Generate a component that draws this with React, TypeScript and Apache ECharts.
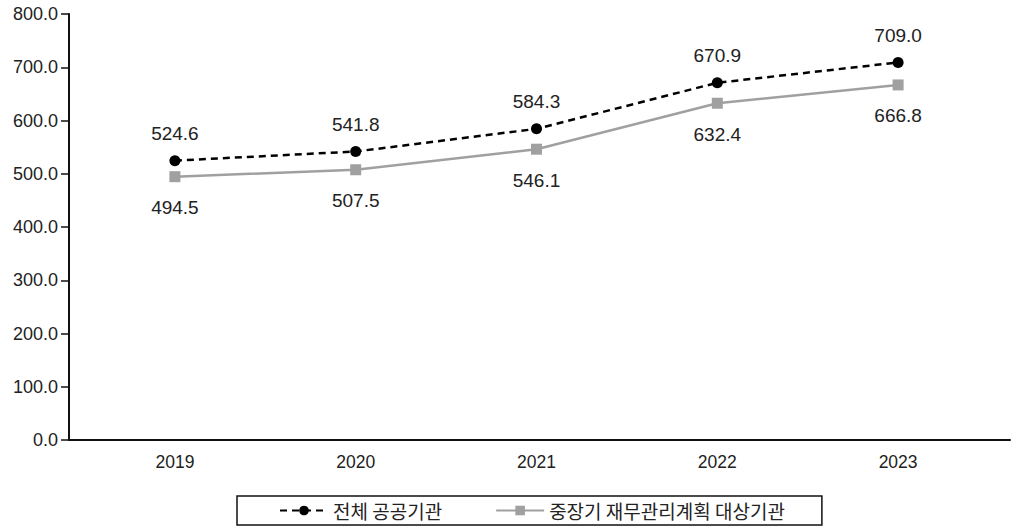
import React, { useEffect, useRef } from "react";
import * as echarts from "echarts";

const years = ["2019", "2020", "2021", "2022", "2023"];
const allPublic = [524.6, 541.8, 584.3, 670.9, 709.0];
const midTerm = [494.5, 507.5, 546.1, 632.4, 666.8];
const seriesNames = ["전체 공공기관", "중장기 재무관리계획 대상기관"];

const FONT = "'Liberation Sans', 'Noto Sans CJK KR', sans-serif";
const KFONT = "'Noto Sans CJK KR', 'Liberation Sans', sans-serif";

export default function App() {
  const ref = useRef<HTMLDivElement>(null);
  useEffect(() => {
    if (!ref.current) return;
    const chart = echarts.init(ref.current, undefined, { renderer: "svg" });
    chart.setOption({
      animation: false,
      backgroundColor: "#fff",
      textStyle: { fontFamily: FONT },
      grid: [
        { left: 84.5, right: 25.5, top: 14, bottom: 91 },
        { left: 69, right: 4, top: 14, bottom: 91 },
      ],
      xAxis: [
        {
          type: "category",
          data: years,
          gridIndex: 0,
          boundaryGap: true,
          axisLine: { show: false },
          axisTick: { show: false },
          axisLabel: { color: "#222", fontSize: 17.5, margin: 13, fontFamily: FONT },
        },
        {
          type: "value",
          gridIndex: 1,
          min: 0,
          max: 1,
          axisLine: { show: true, lineStyle: { color: "#111", width: 2 } },
          axisTick: { show: false },
          axisLabel: { show: false },
          splitLine: { show: false },
        },
      ],
      yAxis: [
        {
          type: "value",
          gridIndex: 0,
          min: 0,
          max: 800,
          interval: 100,
          offset: 15.5,
          axisLine: { show: true, lineStyle: { color: "#111", width: 2 } },
          axisTick: { show: true, length: 8, lineStyle: { color: "#111", width: 1.5 } },
          axisLabel: {
            color: "#222",
            fontSize: 18,
            margin: 11,
            fontFamily: FONT,
            formatter: (v: number) => v.toFixed(1),
          },
          splitLine: { show: false },
        },
        {
          type: "value",
          gridIndex: 1,
          show: false,
          min: 0,
          max: 1,
        },
      ],
      legend: {
        top: 496,
        left: 237,
        data: seriesNames,
        itemWidth: 48,
        itemHeight: 12,
        itemGap: 53,
        padding: [5, 37, 5, 42],
        borderColor: "#111",
        borderWidth: 1.5,
        borderRadius: 0,
        textStyle: { color: "#222", fontSize: 19, fontFamily: KFONT },
      },
      series: [
        {
          name: seriesNames[0],
          type: "line",
          data: allPublic,
          xAxisIndex: 0,
          yAxisIndex: 0,
          symbol: "circle",
          symbolSize: 11,
          itemStyle: { color: "#000" },
          lineStyle: { color: "#000", width: 2.5, type: [7, 5] },
          label: {
            show: true,
            position: "top",
            distance: 12,
            color: "#222",
            fontSize: 19,
            fontFamily: FONT,
            formatter: (p: any) => p.value.toFixed(1),
          },
          z: 3,
        },
        {
          name: seriesNames[1],
          type: "line",
          data: midTerm,
          xAxisIndex: 0,
          yAxisIndex: 0,
          symbol: "rect",
          symbolSize: 11,
          itemStyle: { color: "#a0a0a0" },
          lineStyle: { color: "#a0a0a0", width: 2.5 },
          label: {
            show: true,
            position: "bottom",
            distance: 16,
            color: "#222",
            fontSize: 19,
            fontFamily: FONT,
            formatter: (p: any) => p.value.toFixed(1),
          },
          z: 2,
        },
      ],
    });
    return () => chart.dispose();
  }, []);
  return (
    <div
      ref={ref}
      style={{ position: "fixed", left: 0, top: 0, width: 1014, height: 531 }}
    />
  );
}
